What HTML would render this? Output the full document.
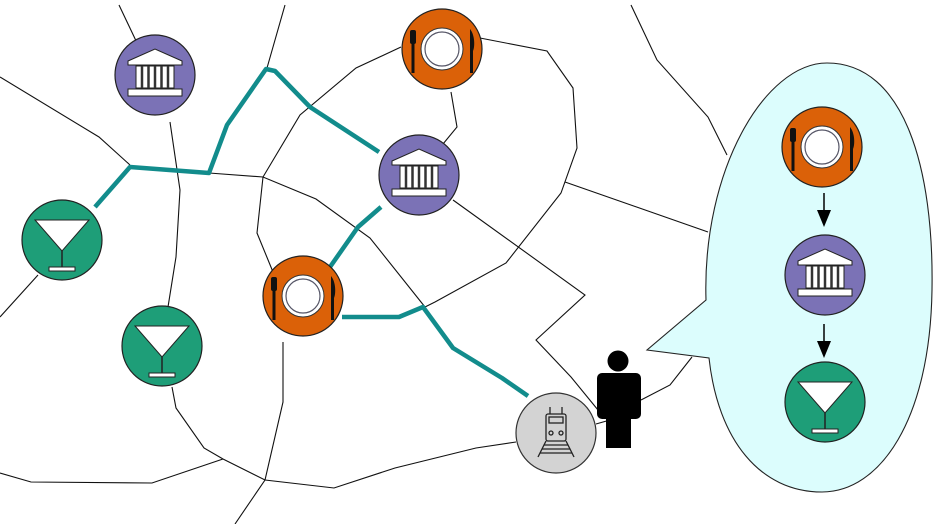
<!DOCTYPE html>
<html><head><meta charset="utf-8"><style>html,body{margin:0;padding:0;background:#fff}svg{display:block}</style></head><body>
<svg width="938" height="524" viewBox="0 0 938 524" xmlns="http://www.w3.org/2000/svg">
<defs>
<g id="mus">
<circle r="40" fill="#7b72b6" stroke="#222" stroke-width="1.2"/>
<polygon points="-27,-14 0,-26 27,-14 27,-10 -27,-10" fill="#fff" stroke="#222" stroke-width="1"/>
<rect x="-19" y="-9" width="38" height="22" fill="#fff" stroke="#222" stroke-width="1"/>
<g stroke="#333" stroke-width="2.5"><line x1="-13" y1="-9" x2="-13" y2="13"/><line x1="-6.5" y1="-9" x2="-6.5" y2="13"/><line x1="0" y1="-9" x2="0" y2="13"/><line x1="6.5" y1="-9" x2="6.5" y2="13"/><line x1="13" y1="-9" x2="13" y2="13"/></g>
<rect x="-27" y="14" width="54" height="7" fill="#fff" stroke="#222" stroke-width="1"/>
</g>
<g id="rest">
<circle r="40" fill="#db6108" stroke="#222" stroke-width="1.2"/>
<circle r="21" fill="#fff" stroke="#333" stroke-width="1"/>
<circle r="17" fill="#fff" stroke="#556" stroke-width="1.2"/>
<rect x="-32" y="-19" width="6" height="14" rx="2" fill="#111"/>
<rect x="-30.5" y="-6" width="3" height="30" fill="#111"/>
<path d="M28,-20 C33,-14 33,-2 31,2 L31,24 L28,24 Z" fill="#111"/>
</g>
<g id="cock">
<circle r="40" fill="#1e9e78" stroke="#222" stroke-width="1.2"/>
<polygon points="-27,-20 27,-20 0,11" fill="#fff" stroke="#222" stroke-width="1"/>
<line x1="0" y1="11" x2="0" y2="28" stroke="#222" stroke-width="1.5"/>
<rect x="-13" y="27" width="26" height="4" fill="#fff" stroke="#222" stroke-width="1"/>
</g>
</defs>
<g fill="none" stroke="#111" stroke-width="1.1">
<polyline points="119,5 138,45"/>
<polyline points="0,77 99,137 130,165"/>
<polyline points="170,122 180,190 176,257 168,307"/>
<polyline points="209,173 263,177 316,199 370,238 425,307"/>
<polyline points="285,5 267,68"/>
<polyline points="401,47 356,68 300,115 263,177 257,233 273,272"/>
<polyline points="480,38 547,51 573,88 577,148 561,193 506,263 435,302 425,307"/>
<polyline points="451,92 457,127 443,144"/>
<polyline points="565,182 708,232"/>
<polyline points="453,200 585,295 536,340 571,377 598,410"/>
<polyline points="38,275 0,317"/>
<polyline points="283,342 283,402 265,480 235,524"/>
<polyline points="172,387 176,408 204,448 223,459 265,480 334,488 395,468 476,448 516,442"/>
<polyline points="0,473 31,482 152,483 223,459"/>
<polyline points="631,5 657,60 708,117 727,155"/>
<polyline points="641,400 670,385 692,357"/>
<polyline points="596,424 610,420"/>
</g>
<g fill="none" stroke="#128c8c" stroke-width="4.5" stroke-linejoin="round">
<polyline points="95,207 130,167 209,173 227,125 266,69 275,71 310,107 379,152"/>
<polyline points="381,207 358,227 330,267"/>
<polyline points="342,317 399,317 423,307 453,348 502,378 528,396"/>
</g>
<use href="#mus" x="155" y="75"/>
<use href="#rest" x="442" y="49"/>
<use href="#mus" x="419" y="175"/>
<use href="#cock" x="62" y="240"/>
<use href="#rest" x="303" y="296"/>
<use href="#cock" x="162" y="346"/>
<circle cx="556" cy="433" r="40" fill="#d3d3d3" stroke="#333" stroke-width="1.2"/>
<g fill="none" stroke="#222" stroke-width="1.3" transform="translate(556,433)">
<line x1="-6" y1="-26" x2="-6" y2="-19"/><line x1="6" y1="-26" x2="6" y2="-19"/>
<rect x="-10" y="-19" width="20" height="27" rx="2"/>
<rect x="-7" y="-16" width="14" height="6"/>
<circle cx="-5" cy="0" r="2"/><circle cx="5" cy="0" r="2"/>
<line x1="-10" y1="8" x2="-18" y2="24"/><line x1="10" y1="8" x2="18" y2="24"/>
<line x1="-12" y1="12" x2="12" y2="12"/><line x1="-14" y1="16" x2="14" y2="16"/><line x1="-16" y1="20" x2="16" y2="20"/>
</g>
<circle cx="618" cy="361" r="10.5" fill="#000"/>
<rect x="597" y="373" width="44" height="46" rx="5" fill="#000"/>
<rect x="606" y="410" width="25" height="38" fill="#000"/>
<path d="M706,300 C702,170 765,63 827,63 C905,63 934,170 932,290 C930,420 880,492 822,492 C760,492 718,440 709,358 L647,350 Z" fill="#dcfdfd" stroke="#222" stroke-width="1.1"/>
<use href="#rest" x="822" y="147"/>
<use href="#mus" x="825" y="275"/>
<use href="#cock" x="825" y="402"/>
<g stroke="#000" stroke-width="1.5"><line x1="824" y1="193" x2="824" y2="212"/><line x1="824" y1="324" x2="824" y2="343"/></g>
<polygon points="817,210 831,210 824,227" fill="#000"/>
<polygon points="817,341 831,341 824,358" fill="#000"/>
</svg>
</body></html>
